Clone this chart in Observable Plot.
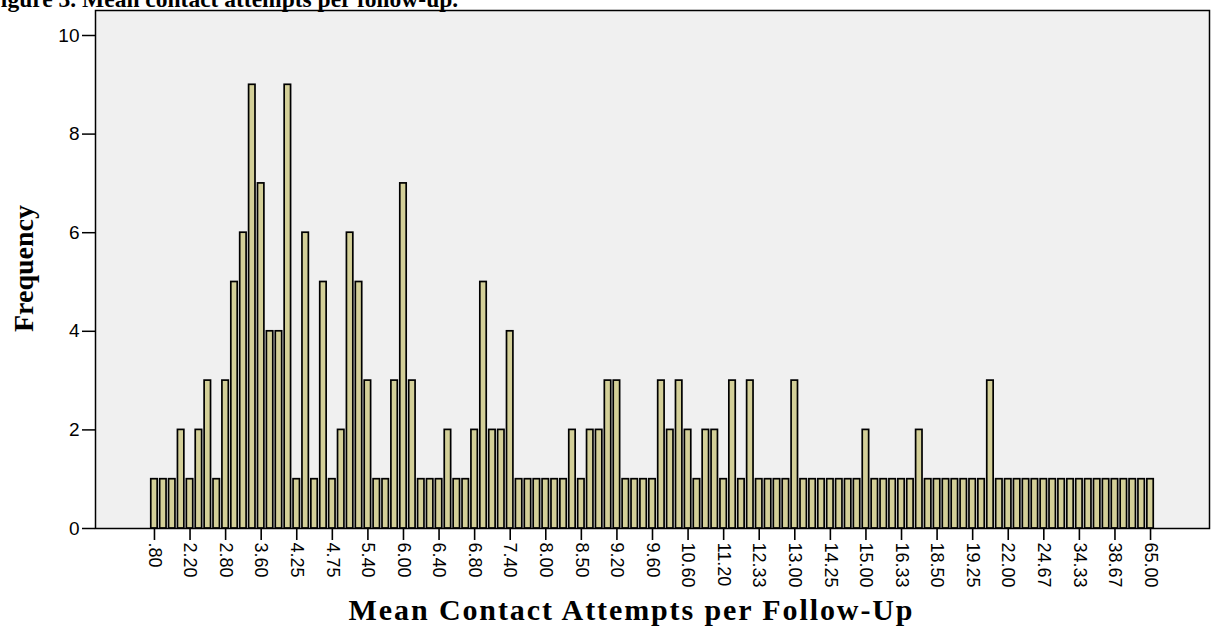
<!DOCTYPE html>
<html>
<head>
<meta charset="utf-8">
<script src="https://cdn.jsdelivr.net/npm/d3@7"></script>
<script src="https://cdn.jsdelivr.net/npm/@observablehq/plot@0.6"></script>
<style>
  html, body { margin: 0; padding: 0; background: #ffffff; }
  #chart svg { display: block; }
  .xtitle text { letter-spacing: 1.9px; }
</style>
</head>
<body>
<div id="chart"></div>
<script>
// Frequencies of each distinct mean value (113 bars, left to right)
const frequencies = [
  1,1,1,2,1,2,3,1,3,5,6,9,7,4,4,9,1,6,1,5,1,
  2,6,5,3,1,1,3,7,3,1,1,1,2,1,1,2,5,2,2,4,1,
  1,1,1,1,1,2,1,2,2,3,3,1,1,1,1,3,2,3,2,1,2,2,
  1,3,1,3,1,1,1,1,3,1,1,1,1,1,1,1,2,1,1,1,1,
  1,2,1,1,1,1,1,1,1,3,1,
  1,1,1,1,1,1,1,1,1,1,1,1,1,1,1,1,1
];
// Tick labels shown under every 4th bar
const tickLabels = [
  ".80","2.20","2.80","3.60","4.25","4.75","5.40","6.00","6.40","6.80",
  "7.40","8.00","8.50","9.20","9.60","10.60","11.20","12.33","13.00","14.25",
  "15.00","16.33","18.50","19.25","22.00","24.67","34.33","38.67","65.00"
];
const yTicks = [0, 2, 4, 6, 8, 10];
const titleText = "Figure 3. Mean contact attempts per follow-up.";
const xTitle = "Mean Contact Attempts per Follow-Up";
const yTitle = "Frequency";

const bins = d3.range(frequencies.length);
const data = bins.map(i => ({bin: i, freq: frequencies[i]}));
const tickBins = bins.filter(i => i % 4 === 0);

const W = 1211, H = 639;
const chart = Plot.plot({
  width: W,
  height: H,
  marginTop: 10,
  marginLeft: 95,
  marginRight: 2,
  marginBottom: 111,
  style: {background: "#ffffff", overflow: "visible"},
  x: {type: "band", domain: bins, paddingInner: 0.28, paddingOuter: 6.27, align: 0.5},
  y: {domain: [0, 10.507]},
  marks: [
    Plot.frame({fill: "#f0f0f0", stroke: null}),
    Plot.barY(data, {x: "bin", y: "freq", fill: "#d3cf98", stroke: "#000000", strokeWidth: 1.7}),
    Plot.frame({stroke: "#000000", strokeWidth: 1.5}),
    Plot.axisY({
      ticks: yTicks, tickSize: 13, tickPadding: 3, strokeWidth: 1.5,
      fontSize: 19, fontFamily: "Liberation Sans, Arial, sans-serif", fill: "#000", label: null
    }),
    Plot.axisX({
      ticks: tickBins, tickSize: 12, tickPadding: 2, strokeWidth: 1.6, tickRotate: 90,
      tickFormat: i => tickLabels[i / 4],
      fontSize: 18, fontFamily: "Liberation Sans, Arial, sans-serif", fill: "#000", label: null
    }),
    Plot.text([xTitle], {
      frameAnchor: "bottom", dy: 82, dx: -21, lineAnchor: "middle", className: "xtitle",
      fontSize: 30, fontWeight: "bold", fontFamily: "Liberation Serif, Times New Roman, serif",
      fill: "#000", textAnchor: "middle"
    }),
    Plot.text([yTitle], {
      frameAnchor: "left", dx: -71, dy: -1, rotate: -90, lineAnchor: "middle",
      fontSize: 28, fontWeight: "bold", fontFamily: "Liberation Serif, Times New Roman, serif",
      fill: "#000", textAnchor: "middle"
    }),
    Plot.text([titleText], {
      frameAnchor: "top-left", dx: -109, dy: -3.5,
      fontSize: 23.5, fontWeight: "bold", fontFamily: "Liberation Serif, Times New Roman, serif",
      fill: "#000", textAnchor: "start", lineAnchor: "bottom"
    })
  ]
});
document.getElementById("chart").appendChild(chart);
</script>
</body>
</html>
